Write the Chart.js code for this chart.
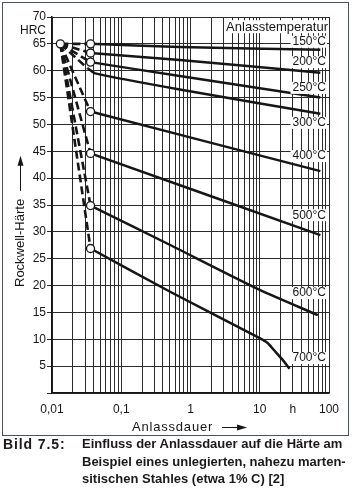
<!DOCTYPE html>
<html><head><meta charset="utf-8">
<script src="https://cdn.jsdelivr.net/npm/chart.js@4/dist/chart.umd.min.js"></script>
<style>
html,body{margin:0;padding:0;background:#fff;}
#wrap{position:relative;width:357px;height:491px;overflow:hidden;background:#fff;}
#frame{position:absolute;left:2px;top:2px;width:347px;height:434px;border:1.5px solid #4a525c;box-sizing:border-box;}
canvas{position:absolute;left:0;top:0;}
.cap{position:absolute;font-family:'Liberation Sans',Arial,sans-serif;font-weight:bold;font-size:13px;color:#1a1a1a;white-space:nowrap;line-height:1;}
</style></head><body>
<div id="wrap">
<div id="frame"></div>
<canvas id="c" width="357" height="491"></canvas>
<div class="cap" style="left:3px;top:437px;font-size:14px;letter-spacing:0.9px">Bild 7.5:</div>
<div class="cap" style="left:82px;top:437px">Einfluss der Anlassdauer auf die Härte am</div>
<div class="cap" style="left:82px;top:455px">Beispiel eines unlegierten, nahezu marten-</div>
<div class="cap" style="left:82px;top:472px">sitischen Stahles (etwa 1% C) [2]</div>
</div>
<script>
// ---- data ----
const temperatures = ['150°C','200°C','250°C','300°C','400°C','500°C','600°C','700°C'];
const labelHRC     = [65.4, 61.6, 56.8, 50.3, 44.1, 33.1, 18.6, 6.5];
const startTime = 0.0132;
const startHRC  = 65;
const t150 = [0.036, 0.7, 75];            const h150 = [65.0, 64.4, 63.9];
const t200 = [0.036, 0.7, 75];            const h200 = [63.3, 62.0, 59.6];
const t250 = [0.036, 0.7, 75];            const h250 = [61.6, 59.0, 55.0];
const t300 = [0.033, 0.042, 0.7, 75];     const h300 = [60.4, 59.5, 56.5, 52.0];
const t400 = [0.036, 75];                 const h400 = [52.4, 41.3];
const t500 = [0.036, 75];                 const h500 = [44.6, 29.4];
const t600 = [0.036, 0.5, 10, 69];        const h600 = [34.9, 27.6, 19.2, 14.5];
const t700 = [0.036, 0.5, 10, 13, 16, 21, 27]; const h700 = [26.9, 18.9, 10.2, 9.3, 8.0, 6.3, 4.5];
const hasCircle = [true, true, true, false, true, true, true, true];
const xGridValues = [0.01,0.02,0.03,0.04,0.05,0.06,0.07,0.08,0.09,
                     0.1,0.2,0.3,0.4,0.5,0.6,0.7,0.8,0.9,
                     1,2,3,4,5,6,7,8,9,10,20,30,40,50,60,70,80,90,100];
const xTickValues = [0.01, 0.1, 1, 10, 30, 100];
const xTickLabels = ['0,01', '0,1', '1', '10', 'h', '100'];
const yGridValues = [0,5,10,15,20,25,30,35,40,45,50,55,60,65,70];
const yTickLabels = ['', '5','10','15','20','25','30','35','40','45','50','55','60','65','70'];

const curvesT = [t150,t200,t250,t300,t400,t500,t600,t700];
const curvesH = [h150,h200,h250,h300,h400,h500,h600,h700];
const ink = '#161616';
const FONT = "'Liberation Sans', Arial, sans-serif";

const datasets = [];
// circles (on top)
const circ = [{x:startTime, y:startHRC}];
curvesT.forEach((t,i)=>{ if(hasCircle[i]) circ.push({x:t[0], y:curvesH[i][0]}); });
datasets.push({data:circ, showLine:false, pointRadius:4, pointBackgroundColor:'#fff',
  pointBorderColor:ink, pointBorderWidth:1.3, order:0});
// solid curves
curvesT.forEach((t,i)=>{
  datasets.push({label:temperatures[i], data:t.map((v,k)=>({x:v, y:curvesH[i][k]})),
    showLine:true, borderColor:ink, borderWidth:2.5, pointRadius:0, tension:0.2, order:1});
});
// dashed lines from the start point
curvesT.forEach((t,i)=>{
  datasets.push({data:[{x:startTime,y:startHRC},{x:t[0],y:curvesH[i][0]}],
    showLine:true, borderColor:ink, borderWidth:2.6, borderDash:[8,4], pointRadius:0, order:2});
});

const annot = {
  id:'annot',
  afterDatasetsDraw(chart){
    const {ctx, chartArea:a, scales:{x, y}} = chart;
    ctx.save();
    // header label
    ctx.font = '13px ' + FONT;
    ctx.textAlign = 'right'; ctx.textBaseline = 'middle';
    let txt = 'Anlasstemperatur';
    let w = ctx.measureText(txt).width;
    let py = y.getPixelForValue(68.1);
    ctx.fillStyle = '#fff'; ctx.fillRect(a.right - w - 3, py - 7, w + 3, 13);
    ctx.fillStyle = ink; ctx.fillText(txt, a.right - 1, py);
    // temperature labels
    ctx.font = '12px ' + FONT;
    temperatures.forEach((t,i)=>{
      const p = y.getPixelForValue(labelHRC[i]);
      const tw = ctx.measureText(t).width;
      ctx.fillStyle = '#fff'; ctx.fillRect(a.right - 3 - tw - 2, p - 6, tw + 3, 12);
      ctx.fillStyle = ink; ctx.fillText(t, a.right - 3, p);
    });
    // HRC unit label
    ctx.font = '12px ' + FONT;
    ctx.fillText('HRC', a.left - 6, y.getPixelForValue(67.5));
    // x title with arrow
    ctx.textAlign = 'left';
    ctx.font = '13px ' + FONT;
    ctx.letterSpacing = '0.8px';
    const xt = 'Anlassdauer';
    const xw = ctx.measureText(xt).width;
    const tx = a.left + 80, ty = a.bottom + 34;
    ctx.fillText(xt, tx, ty);
    ctx.letterSpacing = '0px';
    ctx.strokeStyle = ink; ctx.lineWidth = 1;
    ctx.beginPath(); ctx.moveTo(tx + xw + 9, ty + 0.5); ctx.lineTo(tx + xw + 26, ty + 0.5); ctx.stroke();
    ctx.beginPath(); ctx.moveTo(tx + xw + 24, ty - 2.5); ctx.lineTo(tx + xw + 34, ty + 0.5); ctx.lineTo(tx + xw + 24, ty + 3.5); ctx.closePath(); ctx.fill();
    // y title with arrow
    ctx.save();
    ctx.translate(20, a.bottom - 106);
    ctx.rotate(-Math.PI/2);
    ctx.font = '13px ' + FONT;
    const yt = 'Rockwell-Härte';
    const yw = ctx.measureText(yt).width;
    ctx.fillText(yt, 0, 0);
    ctx.beginPath(); ctx.moveTo(yw + 8, 0.5); ctx.lineTo(yw + 36, 0.5); ctx.stroke();
    ctx.beginPath(); ctx.moveTo(yw + 33, -2.5); ctx.lineTo(yw + 43, 0.5); ctx.lineTo(yw + 33, 3.5); ctx.closePath(); ctx.fill();
    ctx.restore();
    ctx.restore();
  }
};

new Chart(document.getElementById('c'), {
  type:'scatter',
  data:{datasets},
  options:{
    responsive:false, animation:false, devicePixelRatio:1,
    layout:{padding:{left:0, top:17, right:28, bottom:68}},
    plugins:{legend:{display:false}, tooltip:{enabled:false}},
    scales:{
      x:{
        type:'logarithmic', min:0.01, max:100,
        afterBuildTicks:s=>{ s.ticks = xGridValues.map(v=>({value:v})); },
        afterFit:s=>{ s.height = 30; },
        ticks:{autoSkip:false, maxRotation:0, padding:9, color:ink, font:{family:FONT, size:12},
          callback:(v)=>{ const k = xTickValues.findIndex(q=>Math.abs(q-v)/q < 1e-6); return k>=0 ? xTickLabels[k] : ''; }},
        grid:{color:'#2b2b2b', lineWidth:1, drawTicks:false},
        border:{color:ink, width:1.5}
      },
      y:{
        type:'linear', min:0, max:70,
        afterBuildTicks:s=>{ s.ticks = yGridValues.map(v=>({value:v})); },
        afterFit:s=>{ s.width = 52; },
        ticks:{autoSkip:false, padding:1, color:ink, font:{family:FONT, size:12},
          callback:(v)=>{ const k = yGridValues.indexOf(v); return k>=0 ? yTickLabels[k] : ''; }},
        grid:{color:'#2b2b2b', lineWidth:1, tickLength:5},
        border:{color:ink, width:1.5}
      }
    }
  },
  plugins:[annot]
});
</script>
</body></html>
